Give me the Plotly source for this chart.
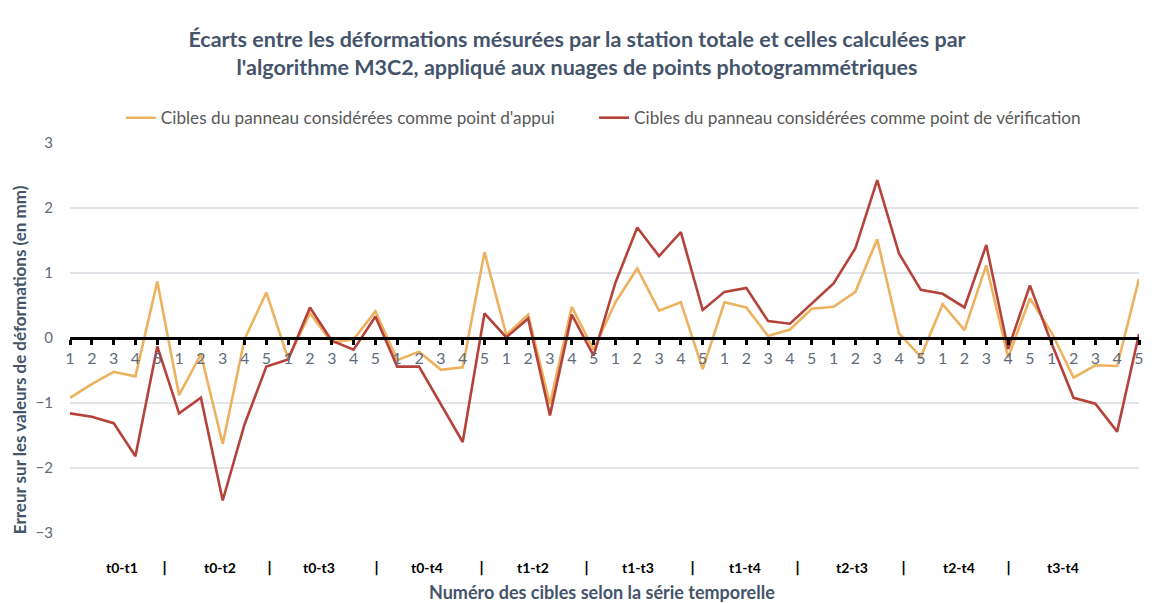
import plotly.graph_objects as go

groups = ["t0-t1", "t0-t2", "t0-t3", "t0-t4", "t1-t2", "t1-t3", "t1-t4", "t2-t3", "t2-t4", "t3-t4"]
targets = ["1", "2", "3", "4", "5"]

appui = [
    -0.92, -0.71, -0.52, -0.59, 0.87,
    -0.88, -0.25, -1.63, -0.02, 0.70,
    -0.32, 0.38, -0.07, -0.02, 0.41,
    -0.34, -0.21, -0.49, -0.45, 1.32,
    0.05, 0.36, -1.02, 0.48, -0.18,
    0.55, 1.07, 0.42, 0.55, -0.48,
    0.55, 0.47, 0.03, 0.13, 0.45,
    0.48, 0.71, 1.52, 0.07, -0.29,
    0.52, 0.12, 1.12, -0.30, 0.61,
    0.08, -0.61, -0.42, -0.43, 0.91,
]
verif = [
    -1.16, -1.21, -1.31, -1.82, -0.13,
    -1.16, -0.92, -2.50, -1.33, -0.44,
    -0.33, 0.47, -0.04, -0.18, 0.33,
    -0.44, -0.44, -1.02, -1.60, 0.38,
    0.01, 0.30, -1.19, 0.36, -0.27,
    0.85, 1.70, 1.26, 1.63, 0.43,
    0.71, 0.77, 0.26, 0.22, 0.53,
    0.84, 1.38, 2.43, 1.30, 0.74,
    0.68, 0.47, 1.43, -0.17, 0.81,
    -0.09, -0.92, -1.01, -1.44, 0.06,
]

name_appui = "Cibles du panneau considérées comme point d'appui"
name_verif = "Cibles du panneau considérées comme point de vérification"

x = list(range(len(groups) * len(targets)))
ticktext = [t for g in groups for t in targets]

ORANGE = "#EDB25F"
RED = "#B5423B"
SLATE = "#44546A"
FONT = "Lato"

L, R = 70, 1143
T, B = 143, 533
W = R - L
H = B - T


def px_x(px):
    return (px - L) / W


def px_y(py):
    return (B - py) / H


fig = go.Figure()
fig.add_trace(go.Scatter(x=x, y=appui, mode="lines", name=name_appui, legend="legend",
                         line=dict(color=ORANGE, width=2.6)))
fig.add_trace(go.Scatter(x=x, y=verif, mode="lines", name=name_verif, legend="legend2",
                         line=dict(color=RED, width=2.6)))

label_px = [122, 221, 320, 428, 535, 640, 748, 855, 962, 1067]
sep_px = [165, 270, 378, 483, 588, 695, 800, 907, 1012]
for g, px in zip(groups, label_px):
    fig.add_annotation(text="<b>" + g + "</b>", x=px_x(px), y=px_y(567), xref="paper", yref="paper",
                       showarrow=False, font=dict(family=FONT, size=14, color="black"),
                       xanchor="center", yanchor="middle")
for px in sep_px:
    fig.add_annotation(text="<b>|</b>", x=px_x(px), y=px_y(567), xref="paper", yref="paper",
                       showarrow=False, font=dict(family="DejaVu Sans", size=14, color="black"),
                       xanchor="center", yanchor="middle")

fig.add_annotation(text="<b>Numéro des cibles selon la série temporelle</b>",
                   x=px_x(604), y=px_y(592), xref="paper", yref="paper", showarrow=False,
                   font=dict(family=FONT, size=18, color=SLATE), xanchor="center", yanchor="middle")
fig.add_annotation(text="<b>Erreur sur les valeurs de déformations (en mm)</b>",
                   x=px_x(19), y=px_y(360), xref="paper", yref="paper", showarrow=False,
                   textangle=-90,
                   font=dict(family=FONT, size=17, color=SLATE), xanchor="center", yanchor="middle")

legend_font = dict(family=FONT, size=17.2, color="#595959")
fig.update_layout(
    width=1156, height=603,
    margin=dict(l=L, r=1156 - R, t=T, b=603 - B),
    paper_bgcolor="white", plot_bgcolor="white",
    title=dict(
        text="<b>Écarts entre les déformations mésurées par la station totale et celles calculées par<br>l'algorithme M3C2, appliqué aux nuages de points photogrammétriques</b>",
        x=577 / 1156, xanchor="center", y=1 - 47 / 603, yanchor="middle",
        font=dict(family=FONT, size=21.5, color=SLATE),
    ),
    legend=dict(orientation="h", x=px_x(121), xanchor="left", y=px_y(118), yanchor="middle",
                font=legend_font, bgcolor="rgba(0,0,0,0)"),
    legend2=dict(orientation="h", x=px_x(596), xanchor="left", y=px_y(118), yanchor="middle",
                 font=legend_font, bgcolor="rgba(0,0,0,0)"),
    showlegend=True,
)
fig.update_xaxes(
    range=[0, len(x) - 1], tickmode="array", tickvals=x, ticktext=ticktext,
    anchor="free", position=0.5, showline=True, linecolor="black", linewidth=2.5,
    ticks="outside", ticklen=5, tickwidth=2.5, tickcolor="black",
    showgrid=False, zeroline=False,
    tickfont=dict(family=FONT, size=16, color="#5F6B7A"),
)
fig.update_yaxes(
    range=[-3, 3], dtick=1, showgrid=True, gridcolor="#E1E5EA", gridwidth=1.5,
    zeroline=False, showline=False, ticks="",
    tickfont=dict(family=FONT, size=15, color="#5F6B7A"), ticklabelstandoff=16,
)

fig.write_html("out.html", post_script="document.body.style.margin='0';",
               config={"displayModeBar": False})
